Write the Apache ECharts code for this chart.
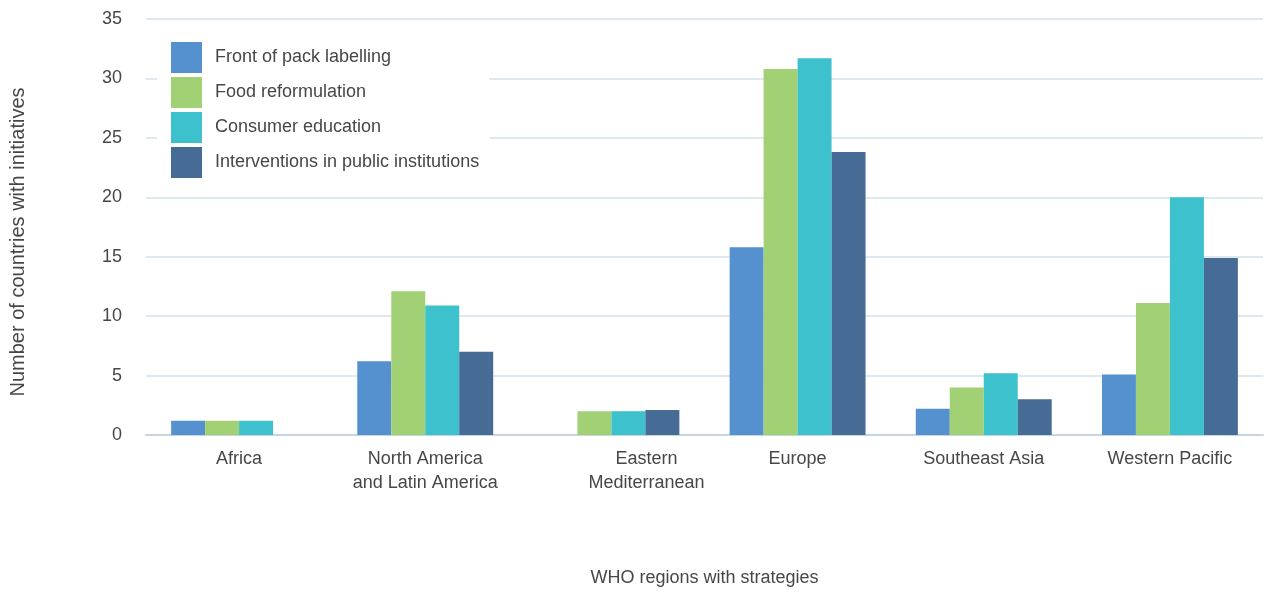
<!DOCTYPE html>
<html lang="en">
<head>
    <meta charset="UTF-8">
    <title>WHO regions with strategies</title>
    <script src="https://cdn.jsdelivr.net/npm/echarts@6/dist/echarts.min.js"></script>
    <style>
        body { margin: 0; background: #fff; }
    </style>
</head>
<body>
<div id="main" style="width:1264px;height:592px;"></div>
<script>
    // regions (x axis)
    var regions = ['Africa', 'North America\nand Latin America', 'Eastern\nMediterranean',
        'Europe', 'Southeast Asia', 'Western Pacific'];
    var yTicks = [0, 5, 10, 15, 20, 25, 30, 35];

    // number of countries per strategy
    var frontOfPack = [1.2, 6.2, 0, 15.8, 2.2, 5.1];
    var foodReform = [1.2, 12.1, 2, 30.8, 4, 11.1];
    var consumerEdu = [1.2, 10.9, 2, 31.7, 5.2, 20];
    var publicInst = [0, 7, 2.1, 23.8, 3, 14.9];

    var txt = '#474747';
    var font = 'Liberation Sans';

    var myChart = echarts.init(document.getElementById('main'));
    myChart.setOption({
        textStyle: {fontFamily: font},
        color: ['#5591cf', '#a2d074', '#3dc1cd', '#466b95'],
        legend: {
            orient: 'vertical',
            left: 157,
            top: 28,
            padding: [14, 10, 14, 14],
            itemWidth: 31,
            itemHeight: 31,
            itemGap: 4,
            backgroundColor: '#fff',
            icon: 'rect',
            textStyle: {fontSize: 18, color: txt, fontFamily: font, padding: [3, 0, 0, 8]},
            data: ['Front of pack labelling', 'Food reformulation', 'Consumer education', 'Interventions in public institutions']
        },
        grid: {left: 146, right: 1, top: 19, bottom: 153.5},
        xAxis: {
            type: 'category',
            data: regions,
            name: 'WHO regions with strategies',
            nameLocation: 'middle',
            nameGap: 134,
            nameTextStyle: {fontSize: 18, color: txt},
            axisLine: {lineStyle: {color: '#c4d6e4', width: 2}},
            axisTick: {show: false},
            axisLabel: {
                fontSize: 18,
                color: txt,
                margin: 12,
                lineHeight: 24,
                interval: 0,
                formatter: function (v) {
                    // label of Eastern Mediterranean sits a bit to the right
                    if (v.indexOf('Eastern') === 0) {
                        return v.split('\n').map(function (s) { return '{s|' + s + '}'; }).join('\n');
                    }
                    return v;
                },
                rich: {s: {fontSize: 18, color: txt, lineHeight: 24, padding: [0, 0, 0, 70]}}
            }
        },
        yAxis: {
            type: 'value',
            min: yTicks[0],
            max: yTicks[yTicks.length - 1],
            interval: 5,
            name: 'Number of countries with initiatives',
            nameLocation: 'middle',
            nameGap: 118,
            nameTextStyle: {fontSize: 20, color: txt, padding: [0, 0, 0, -30]},
            axisLabel: {fontSize: 18, color: txt, margin: 24},
            splitLine: {lineStyle: {color: '#d3e2ea', width: 1.5}}
        },
        series: [
            {name: 'Front of pack labelling', type: 'bar', data: frontOfPack, barGap: 0, barCategoryGap: '27%'},
            {name: 'Food reformulation', type: 'bar', data: foodReform},
            {name: 'Consumer education', type: 'bar', data: consumerEdu},
            {name: 'Interventions in public institutions', type: 'bar', data: publicInst}
        ]
    });
</script>
</body>
</html>
